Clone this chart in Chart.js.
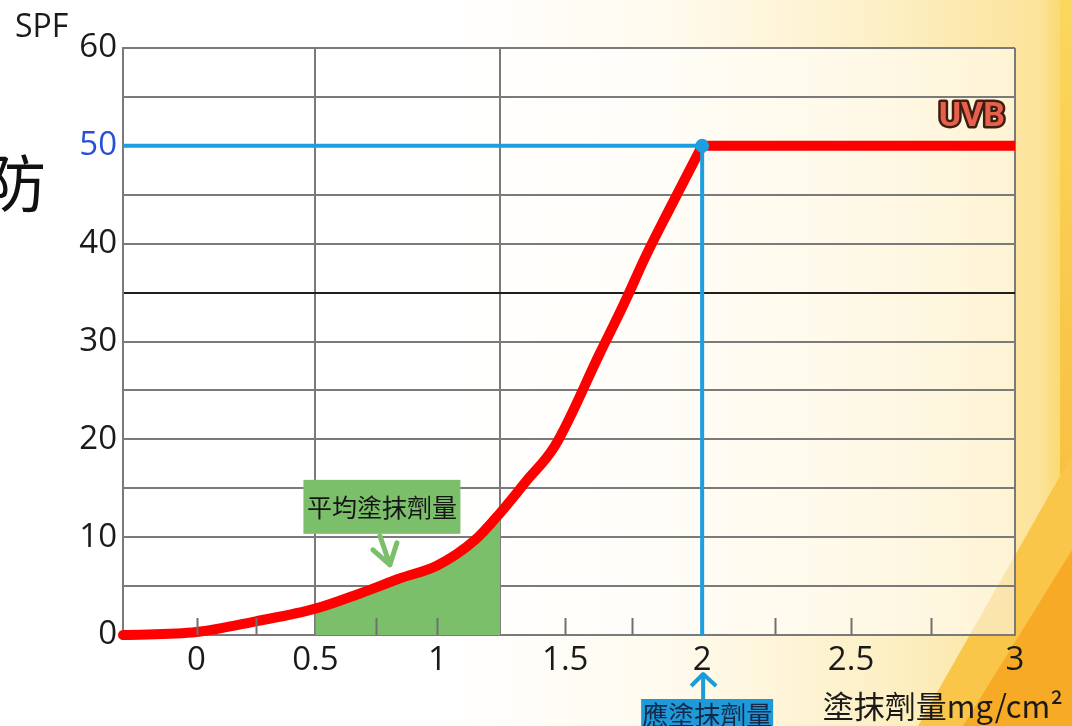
<!DOCTYPE html>
<html>
<head>
<meta charset="utf-8">
<script src="https://cdn.jsdelivr.net/npm/chart.js@4.4.1/dist/chart.umd.min.js"></script>
<style>
  html, body { margin: 0; padding: 0; background: #ffffff; overflow: hidden; }
  #wrap { position: relative; width: 1072px; height: 726px; }
  canvas { display: block; }
</style>
</head>
<body>
<div id="wrap"><canvas id="spfChart" width="1072" height="726"></canvas></div>
<script>
// Amount of sunscreen applied (mg/cm²) against the SPF actually obtained
const doseValues = [-0.31, 0, 0.25, 0.5, 0.69, 0.85, 1, 1.15, 1.25, 1.35, 1.46, 1.63, 1.72, 1.8, 1.88, 2, 3];
const spfValues  = [0, 0.3, 1.4, 2.7, 4.3, 5.8, 7.1, 9.7, 12.5, 15.7, 19.3, 28.8, 33.9, 38.8, 43.3, 50, 50];

// Range most people actually apply, and the amount used in SPF testing
const averageDoseRange = [0.5, 1.25];
const recommendedDose = 2;
const labeledSpf = 50;

// Axes
const doseAxisRange = [-0.31, 3];
const doseTicks = [0, 0.25, 0.5, 0.75, 1, 1.25, 1.5, 1.75, 2, 2.25, 2.5, 2.75, 3];
const doseTickLabels = ['0', '', '0.5', '', '1', '', '1.5', '', '2', '', '2.5', '', '3'];
const doseGridLines = [0.5, 1.25, 3];
const spfTicks = [0, 5, 10, 15, 20, 25, 30, 35, 40, 45, 50, 55, 60];
const spfTickLabels = ['0', '', '10', '', '20', '', '30', '', '40', '', '50', '', '60'];
const spfDarkLine = 35;

// Text
const seriesName = 'UVB';
const averageLabel = '平均塗抹劑量';
const averageLabelAt = { dose: 0.775, spf: 13.1 };
const recommendedLabel = '應塗抹劑量';
const xTitle = '塗抹劑量mg/cm²';
const yTitle = 'SPF';
const sideText = '防';

const NUM_FONT = "'Open Sans', 'Noto Sans', sans-serif";
const CJK_FONT = "'Noto Sans CJK TC', 'Noto Sans CJK SC', sans-serif";

// Linear scale whose spacing widens toward larger values: g(v) = v + k·v³
class WarpedLinearScale extends Chart.LinearScale {
  static id = 'warpedLinear';
  static defaults = {};
  _warp(v) { const k = this.options.cubicWarp || 0; return v + k * v * v * v; }
  getPixelForValue(value) {
    if (value === null || value === undefined || isNaN(value)) return NaN;
    const a = this._warp(this.min), b = this._warp(this.max);
    return this.getPixelForDecimal((this._warp(value) - a) / (b - a));
  }
  getValueForPixel(pixel) {
    const a = this._warp(this.min), b = this._warp(this.max);
    const g = a + this.getDecimalForPixel(pixel) * (b - a);
    const k = this.options.cubicWarp || 0;
    let v = g;
    for (let i = 0; i < 10; i++) v -= (v + k * v * v * v - g) / (1 + 3 * k * v * v);
    return v;
  }
}
Chart.register(WarpedLinearScale);

const curvePoints = doseValues.map((d, i) => ({ x: d, y: spfValues[i] }));
// rising part (smoothed) and the flat plateau once the labelled SPF is reached
const risePoints = curvePoints.filter(p => p.x <= recommendedDose);
const plateauPoints = curvePoints.filter(p => p.x >= recommendedDose);
const averagePoints = curvePoints.filter(p => p.x >= averageDoseRange[0] && p.x <= averageDoseRange[1]);
const guidePoints = [
  { x: doseAxisRange[0], y: labeledSpf },
  { x: recommendedDose, y: labeledSpf },
  { x: recommendedDose, y: 0 }
];

const backgroundPlugin = {
  id: 'pageBackground',
  beforeDraw(chart) {
    const { ctx, width: W, height: H, chartArea: ca } = chart;
    ctx.save();
    const g = ctx.createLinearGradient(0, 0, W, 0);
    g.addColorStop(0, '#ffffff');
    g.addColorStop(0.42, '#ffffff');
    g.addColorStop(0.62, '#fffaee');
    g.addColorStop(0.82, '#fdf0c6');
    g.addColorStop(0.97, '#fce39a');
    g.addColorStop(1, '#f9d45a');
    ctx.fillStyle = g;
    ctx.fillRect(0, 0, W, H);

    const strip = ctx.createLinearGradient(0, 0, 0, H);
    strip.addColorStop(0, '#fad75e');
    strip.addColorStop(1, '#f7b532');
    ctx.fillStyle = strip;
    ctx.fillRect(W - 12, 0, 12, H);

    ctx.fillStyle = '#f9c64a';
    ctx.beginPath();
    ctx.moveTo(918, H); ctx.lineTo(W, 455); ctx.lineTo(W, H); ctx.closePath();
    ctx.fill();
    ctx.fillStyle = '#f6aa26';
    ctx.beginPath();
    ctx.moveTo(963, H); ctx.lineTo(W, 550); ctx.lineTo(W, H); ctx.closePath();
    ctx.fill();

    ctx.fillStyle = 'rgba(255,255,255,0.55)';
    ctx.fillRect(ca.left, ca.top, ca.right - ca.left, ca.bottom - ca.top);
    ctx.restore();
  }
};

const notesPlugin = {
  id: 'notes',
  afterDatasetsDraw(chart) {
    const { ctx, scales: { x: xs, y: ys }, chartArea: ca } = chart;
    ctx.save();

    // short marks along the bottom edge
    ctx.strokeStyle = '#707070';
    ctx.lineWidth = 2;
    doseTicks.forEach(v => {
      if (doseGridLines.includes(v) || v === recommendedDose) return;
      const px = Math.round(xs.getPixelForValue(v)) + 0.5;
      ctx.beginPath();
      ctx.moveTo(px, ca.bottom);
      ctx.lineTo(px, ca.bottom - 17);
      ctx.stroke();
    });

    // series name at the end of the curve
    ctx.font = `bold 34px Roboto, ${NUM_FONT}`;
    ctx.textAlign = 'right';
    ctx.textBaseline = 'alphabetic';
    ctx.lineJoin = 'round';
    ctx.lineWidth = 5;
    ctx.strokeStyle = '#3b1d12';
    const ux = xs.getPixelForValue(doseTicks[doseTicks.length - 1]) - 10;
    const uy = ys.getPixelForValue(labeledSpf) - 20;
    ctx.strokeText(seriesName, ux, uy);
    ctx.fillStyle = '#e8604c';
    ctx.fillText(seriesName, ux, uy);

    // green call-out for the average amount
    const gx = xs.getPixelForValue(averageLabelAt.dose);
    const gy = ys.getPixelForValue(averageLabelAt.spf);
    const gw = 157, gh = 54;
    ctx.fillStyle = '#7cbf6b';
    ctx.fillRect(gx - gw / 2, gy - gh / 2, gw, gh);
    ctx.fillStyle = '#151515';
    ctx.font = `25px ${CJK_FONT}`;
    ctx.textAlign = 'center';
    ctx.textBaseline = 'middle';
    ctx.fillText(averageLabel, gx, gy + 1);
    ctx.strokeStyle = '#7cbf6b';
    ctx.lineWidth = 5;
    ctx.lineCap = 'round';
    ctx.beginPath();
    ctx.moveTo(gx - 2, gy + gh / 2 + 2);
    ctx.lineTo(gx + 8, gy + gh / 2 + 31);
    ctx.moveTo(gx - 9, gy + gh / 2 + 16);
    ctx.lineTo(gx + 8, gy + gh / 2 + 31);
    ctx.lineTo(gx + 15, gy + gh / 2 + 9);
    ctx.stroke();

    // blue call-out under the recommended amount
    const bx = xs.getPixelForValue(recommendedDose);
    const by = chart.height - 27;
    ctx.strokeStyle = '#1e9ad8';
    ctx.lineWidth = 4;
    ctx.lineCap = 'butt';
    ctx.beginPath();
    ctx.moveTo(bx + 1, by);
    ctx.lineTo(bx + 1, by - 25);
    ctx.moveTo(bx - 11, by - 13);
    ctx.lineTo(bx + 1, by - 25);
    ctx.lineTo(bx + 14, by - 13);
    ctx.stroke();
    ctx.fillStyle = '#1e9ad8';
    ctx.fillRect(bx - 61, by, 132, 40);
    ctx.fillStyle = '#14284a';
    ctx.font = `26px ${CJK_FONT}`;
    ctx.textAlign = 'center';
    ctx.textBaseline = 'middle';
    ctx.fillText(recommendedLabel, bx + 5, by + 16);

    // axis titles and side text
    ctx.fillStyle = '#1a1a1a';
    ctx.font = `31px ${CJK_FONT}`;
    ctx.textAlign = 'right';
    ctx.textBaseline = 'alphabetic';
    ctx.fillText(xTitle, 1063, 718);

    ctx.font = `32px ${NUM_FONT}`;
    ctx.textAlign = 'left';
    ctx.fillText(yTitle, 15, 37);

    ctx.fillStyle = '#111111';
    ctx.font = `62px ${CJK_FONT}`;
    ctx.fillText(sideText, -16, 207);
    ctx.restore();
  }
};

const uvbLine = {
  borderColor: '#ff0000',
  borderWidth: 10,
  borderCapStyle: 'round',
  borderJoinStyle: 'round',
  pointRadius: 0,
  fill: false,
  clip: { left: 8, right: 0, top: 8, bottom: 8 }
};

new Chart(document.getElementById('spfChart'), {
  type: 'line',
  data: {
    datasets: [
      {
        label: 'guide',
        data: guidePoints,
        borderColor: '#1c9ee0',
        backgroundColor: '#1c9ee0',
        borderWidth: 4,
        tension: 0,
        pointRadius: [0, 7, 0],
        pointBackgroundColor: '#1c9ee0',
        pointBorderWidth: 0,
        fill: false,
        clip: false
      },
      Object.assign({ label: seriesName, data: risePoints, cubicInterpolationMode: 'monotone' }, uvbLine),
      Object.assign({ label: seriesName, data: plateauPoints, tension: 0 }, uvbLine),
      {
        label: averageLabel,
        data: averagePoints,
        borderWidth: 0,
        borderColor: 'rgba(0,0,0,0)',
        backgroundColor: '#7cbf6b',
        cubicInterpolationMode: 'monotone',
        pointRadius: 0,
        fill: 'origin'
      }
    ]
  },
  options: {
    responsive: false,
    animation: false,
    events: [],
    layout: { padding: { left: 0, top: 48, right: 57, bottom: 0 } },
    plugins: {
      legend: { display: false },
      tooltip: { enabled: false }
    },
    scales: {
      x: {
        type: 'warpedLinear',
        cubicWarp: 0.0169,
        min: doseAxisRange[0],
        max: doseAxisRange[1],
        afterBuildTicks: s => { s.ticks = doseTicks.map(v => ({ value: v })); },
        afterFit: s => { s.height = 91; },
        border: { display: true, color: '#7a7a7a', width: 2 },
        grid: {
          drawTicks: false,
          lineWidth: 2,
          color: c => (c.tick && doseGridLines.includes(c.tick.value)) ? '#7a7a7a' : 'rgba(0,0,0,0)'
        },
        ticks: {
          autoSkip: false,
          maxRotation: 0,
          padding: 6,
          color: '#1a1a1a',
          font: { family: NUM_FONT, size: 33 },
          callback: (v, i) => doseTickLabels[i]
        }
      },
      y: {
        type: 'linear',
        min: spfTicks[0],
        max: spfTicks[spfTicks.length - 1],
        afterBuildTicks: s => { s.ticks = spfTicks.map(v => ({ value: v })); },
        afterFit: s => { s.width = 123; },
        border: { display: true, color: '#7a7a7a', width: 2 },
        grid: {
          drawTicks: false,
          lineWidth: 2,
          color: c => (c.tick && c.tick.value === spfDarkLine) ? '#1e1e1e' : '#7a7a7a'
        },
        ticks: {
          autoSkip: false,
          padding: 6,
          color: c => (c.tick && c.tick.value === labeledSpf) ? '#2a4fd6' : '#1a1a1a',
          font: { family: NUM_FONT, size: 33 },
          callback: (v, i) => spfTickLabels[i]
        }
      }
    }
  },
  plugins: [backgroundPlugin, notesPlugin]
});
</script>
</body>
</html>
